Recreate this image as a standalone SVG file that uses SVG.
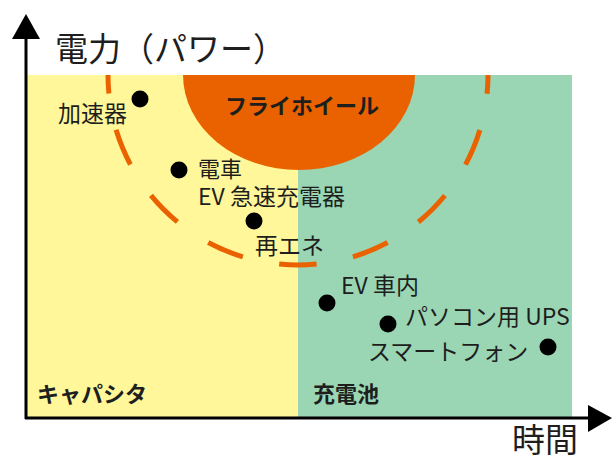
<svg xmlns="http://www.w3.org/2000/svg" width="614" height="460" viewBox="0 0 614 460">
<style>
.t{font-family:"Noto Sans CJK JP","Noto Sans",sans-serif;fill:#1e1e1e;font-size:23px}
.s{font-size:22px}
.b{font-weight:bold;font-size:22px}
.big{font-size:33px}
.dot{fill:#000}
.ax{stroke:#000;stroke-width:3;fill:none}
</style>
<defs>
<clipPath id="plot"><rect x="27" y="75" width="545" height="344"/></clipPath>
</defs>
<g id="background">
<rect x="27" y="75" width="272" height="343" fill="#FFF799"/>
<rect x="298" y="75" width="274" height="343" fill="#9AD6B4"/>
</g>
<g id="flywheel">
<path d="M183 75 A116 95 0 0 0 415 75 Z" fill="#EA6200"/>
<text class="t b" x="302" y="114" text-anchor="middle">フライホイール</text>
</g>
<g id="dashed-ring" clip-path="url(#plot)">
<circle cx="298" cy="75" r="190" fill="none" stroke="#EA6200" stroke-width="5" stroke-dasharray="37.5 37.11" stroke-dashoffset="18.75"/>
</g>
<g id="connectors">
<line class="ax" x1="26" y1="36" x2="26" y2="419"/>
<polygon points="26,14 12,39 40,39" fill="#000"/>
<line class="ax" x1="25" y1="418" x2="592" y2="418"/>
<polygon points="612,418 588,405 588,432" fill="#000"/>
</g>
<g id="axis-labels">
<text class="t big" x="55" y="61">電力（パワー）</text>
<text class="t big" x="512" y="452">時間</text>
</g>
<g id="capacitor"><text class="t b" x="37" y="402">キャパシタ</text></g>
<g id="battery"><text class="t b" x="313" y="402">充電池</text></g>
<g id="accelerator"><circle class="dot" cx="140" cy="99" r="8.5"/><text class="t" x="58" y="122">加速器</text></g>
<g id="train"><circle class="dot" cx="179" cy="170" r="8.5"/><text class="t s" x="198" y="177">電車</text><text class="t" x="198" y="205">EV 急速充電器</text></g>
<g id="renewable"><circle class="dot" cx="254" cy="221" r="8.5"/><text class="t" x="255" y="254">再エネ</text></g>
<g id="ev"><circle class="dot" cx="327" cy="303" r="8.5"/><text class="t" x="341" y="294">EV 車内</text></g>
<g id="ups"><circle class="dot" cx="388" cy="324" r="8.5"/><text class="t" x="405" y="325">パソコン用 UPS</text></g>
<g id="smartphone"><circle class="dot" cx="548" cy="347" r="8.5"/><text class="t" x="368" y="360">スマートフォン</text></g>
</svg>
